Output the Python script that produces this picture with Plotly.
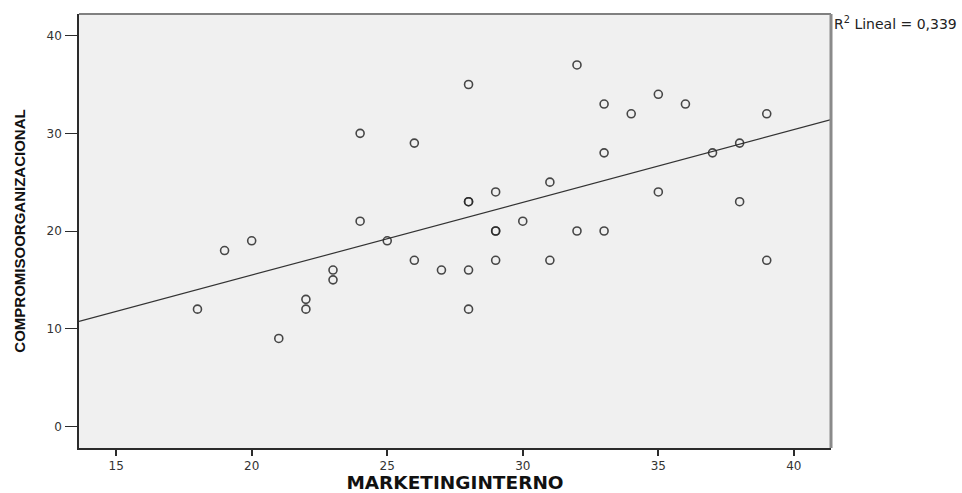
import numpy as np
import plotly.graph_objects as go

# Marketing interno (x) vs. compromiso organizacional (y), one entry per respondent
marketing_interno = [18, 19, 20, 21, 22, 22, 23, 23, 24, 24, 25, 26, 26, 27,
                     28, 28, 28, 28, 28, 29, 29, 29, 29, 30, 31, 31, 32, 32,
                     33, 33, 33, 34, 35, 35, 36, 37, 38, 38, 39, 39]
compromiso_org = [12, 18, 19, 9, 13, 12, 16, 15, 30, 21, 19, 29, 17, 16,
                  35, 23, 23, 16, 12, 24, 20, 20, 17, 21, 25, 17, 37, 20,
                  33, 28, 20, 32, 34, 24, 33, 28, 29, 23, 32, 17]

x_ticks = [15, 20, 25, 30, 35, 40]
y_ticks = [0, 10, 20, 30, 40]
x_range = [13.63, 41.37]
y_range = [-2.22, 42.22]

# Ordinary least squares fit and its R²
xs = np.array(marketing_interno, dtype=float)
ys = np.array(compromiso_org, dtype=float)
slope, intercept = np.polyfit(xs, ys, 1)
r2 = np.corrcoef(xs, ys)[0, 1] ** 2
r2_label = f"{r2:.3f}".replace(".", ",")

fit_x = np.array(x_range)
fit_y = intercept + slope * fit_x

ink = "#2b2b2b"
tick_font = dict(family="DejaVu Sans, Verdana, sans-serif", size=12, color="#333333")

fig = go.Figure()
fig.add_trace(go.Scatter(
    x=fit_x, y=fit_y, mode="lines",
    line=dict(color="#333333", width=1.2),
    hoverinfo="skip", showlegend=False,
))
fig.add_trace(go.Scatter(
    x=marketing_interno, y=compromiso_org, mode="markers",
    marker=dict(symbol="circle-open", size=8, color="rgba(40,40,40,0.85)",
                line=dict(width=1.6)),
    showlegend=False,
))

fig.update_layout(
    width=962, height=493,
    margin=dict(l=79, r=131, t=14, b=45, autoexpand=False),
    paper_bgcolor="white",
    plot_bgcolor="#f0f0f0",
    xaxis=dict(
        range=x_range, tickvals=x_ticks, showgrid=False, zeroline=False,
        automargin=False,
        showline=True, linecolor=ink, linewidth=1.5,
        ticks="outside", ticklen=6, tickwidth=1.5, tickcolor=ink,
        tickfont=tick_font,
        title=dict(text="MARKETINGINTERNO", standoff=8,
                   font=dict(family="DejaVu Sans, Verdana, sans-serif",
                             size=18.5, color="#111111", weight="bold")),
    ),
    yaxis=dict(
        range=y_range, tickvals=y_ticks, showgrid=False, zeroline=False,
        automargin=False,
        showline=True, linecolor=ink, linewidth=1.5,
        ticks="outside", ticklen=12, tickwidth=1.2, tickcolor=ink,
        tickfont=tick_font, ticklabelstandoff=1,
        title=dict(text="COMPROMISOORGANIZACIONAL", standoff=17,
                   font=dict(family="Liberation Sans, Arial, sans-serif",
                             size=15, color="#111111", weight="bold")),
    ),
    shapes=[
        # gray frame on the top and right edges of the plot area
        dict(type="line", xref="paper", yref="paper", x0=0, x1=1, y0=1, y1=1,
             line=dict(color="#808080", width=2)),
        dict(type="line", xref="paper", yref="paper", x0=1, x1=1, y0=0, y1=1,
             line=dict(color="#8a8a8a", width=3)),
    ],
    annotations=[
        dict(text=f"R<sup>2</sup> Lineal = {r2_label}", xref="paper", yref="paper",
             x=1, y=1, xanchor="left", yanchor="top", xshift=1, yshift=2,
             showarrow=False,
             font=dict(family="DejaVu Sans, Verdana, sans-serif", size=14, color="#222222")),
    ],
)

fig.write_html("out.html")
